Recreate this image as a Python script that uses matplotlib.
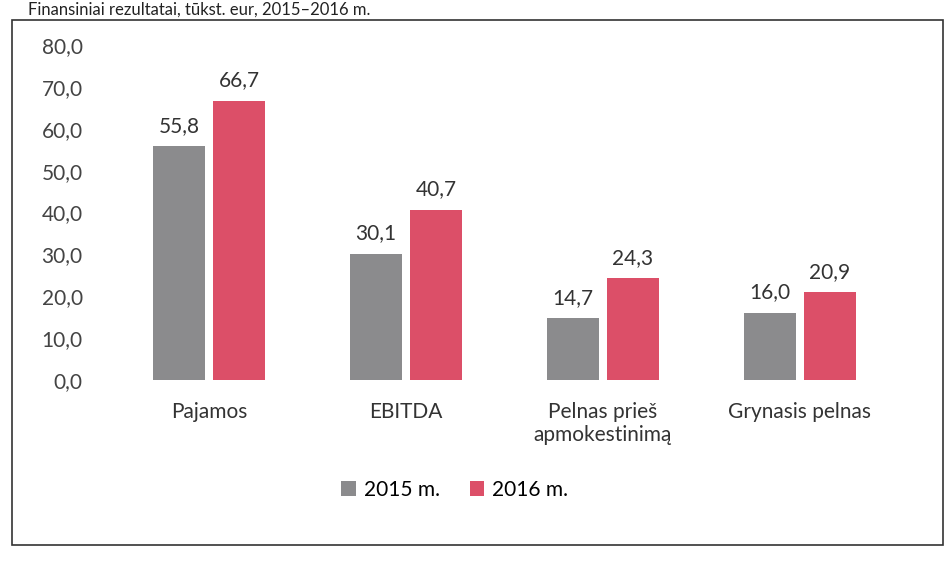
import numpy as np
import matplotlib.pyplot as plt
from matplotlib.patches import Rectangle

categories = ["Pajamos", "EBITDA", "Pelnas prieš\napmokestinimą", "Grynasis pelnas"]
vals_2015 = [55.8, 30.1, 14.7, 16.0]
vals_2016 = [66.7, 40.7, 24.3, 20.9]
series_names = ["2015 m.", "2016 m."]
yticks = [0, 10, 20, 30, 40, 50, 60, 70, 80]

plt.rcParams['font.family'] = ['Lato', 'DejaVu Sans']

fig = plt.figure(figsize=(9.48, 5.71), dpi=100)
ax = fig.add_axes([91/948, 191/571, (908-91)/948, 335/571])

x = np.arange(len(categories))
w = 0.265
gray = "#8b8b8d"
red = "#dc4f68"
b1 = ax.bar(x - 0.152, vals_2015, w, color=gray, label=series_names[0])
b2 = ax.bar(x + 0.152, vals_2016, w, color=red, label=series_names[1])

for bars in (b1, b2):
    for r in bars:
        h = r.get_height()
        ax.text(r.get_x() + r.get_width()/2, h + 2.5, ("%.1f" % h).replace(".", ","),
                ha="center", va="bottom", fontsize=15, color="#333333")

ax.set_xlim(-0.6, 3.55)
ax.set_ylim(0, 80)
ax.set_yticks(yticks)
ax.set_yticklabels([("%.1f" % v).replace(".", ",") for v in yticks], fontsize=15, color="#444444")
ax.set_xticks(x)
ax.set_xticklabels(categories, fontsize=15, color="#333333")
ax.tick_params(length=0, axis="x", pad=16)
ax.tick_params(length=0, axis="y", pad=6)
for s in ax.spines.values():
    s.set_visible(False)

fig.legend(handles=[b1, b2], labels=series_names, loc="center", bbox_to_anchor=(455/948, 1 - 490/571),
           ncol=2, frameon=False, fontsize=15, handlelength=0.7, handleheight=0.7,
           columnspacing=1.4, handletextpad=0.4)

fig.patches.append(Rectangle((0.013, 0.045), 0.982, 0.92, transform=fig.transFigure,
                             fill=False, edgecolor="#333333", linewidth=1.2))
fig.text(0.03, 0.998, "Finansiniai rezultatai, tūkst. eur, 2015–2016 m.", fontsize=12,
         ha="left", va="top", color="#222222")

fig.savefig("out.png", dpi=100)
